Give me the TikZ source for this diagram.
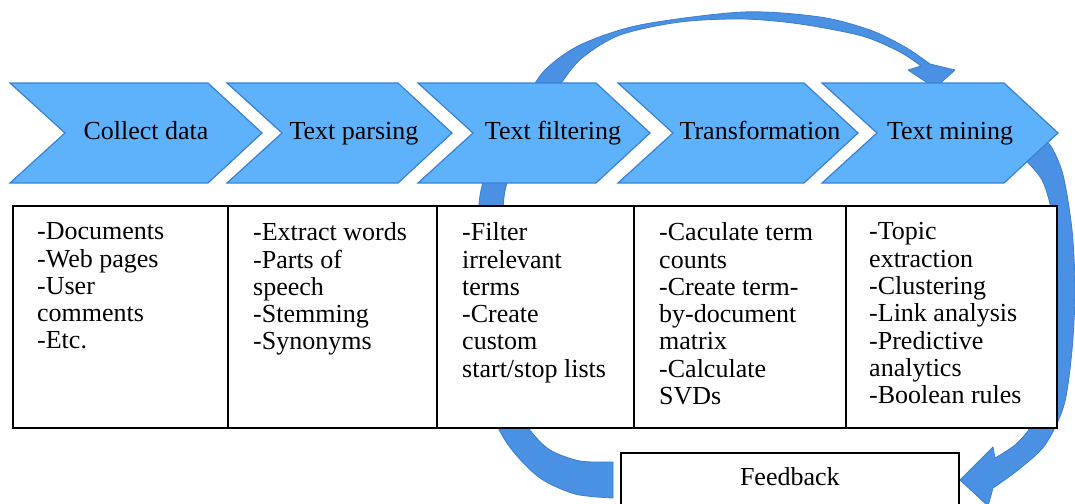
\documentclass[tikz,border=0pt]{standalone}
\usepackage{fontspec}
\setmainfont{Liberation Serif}
\usetikzlibrary{positioning}
\definecolor{chevfill}{HTML}{5EB2FB}
\definecolor{chevline}{HTML}{3A80D4}
\definecolor{bandfill}{HTML}{4A91E3}
\definecolor{bandline}{HTML}{3B7ED2}

\begin{document}
\begin{tikzpicture}[x=1pt,y=-1pt,
  chev/.style={draw=chevline,fill=chevfill,line width=1.2pt,line join=miter},
  chevtext/.style={anchor=base,inner sep=0pt},
  cell/.style={draw=black,fill=white,line width=1.6pt,outer sep=0pt,inner sep=0pt,minimum height=222pt,anchor=north west},
  celltext/.style={font=\fontsize{26}{27.3}\selectfont,align=left,anchor=north west,inner sep=0pt},
  bandarrow/.style={draw=bandline,fill=bandfill,line width=0.8pt,line join=round}
]
\useasboundingbox (0,0) rectangle (1075,503);
\clip (0,0) rectangle (1075,503);

% feedback loop back over the top to text mining
\draw[bandarrow] plot[smooth] coordinates {(613,498) (575,494) (540,478) (512,450) (495,420) (484,370) (478,300) (478,240) (481,190) (500,140) (525,100) (545,70) (580,45) (640,25) (743,12) (820,17) (870,30) (905,47) (930,64)}
  -- (955,70) -- (935,88) -- (908,70)
  -- plot[smooth] coordinates {(921,66) (900,52) (862,36) (800,24) (743,19) (680,22) (620,35) (582,58) (560,85) (540,120) (510,175) (503,210) (505,280) (510,350) (518,405) (530,430) (550,450) (580,461) (613,462)} -- cycle;

% text mining down to feedback
\draw[bandarrow] plot[smooth] coordinates {(1030,128) (1050,145) (1063,175) (1072,230) (1075,290) (1072,350) (1064,405) (1045,445) (1018,470) (993,488)}
  -- (988,506) -- (960,480) -- (993,447)
  -- plot[smooth] coordinates {(995,458) (1015,445) (1030,428) (1045,400) (1055,350) (1058,290) (1054,225) (1042,180) (1015,150)} -- cycle;

% process chevrons
\foreach \lx/\tx/\cx/\name/\txt in {10/262/146/collect/Collect data,
    227/452/354/parse/Text parsing,
    418/650/553/filter/Text filtering,
    618/858/760/transform/Transformation,
    822/1058/950/mine/Text mining}{
  \draw[chev] (\lx,83) -- (\tx-54,83) -- (\tx,133) -- (\tx-54,183) -- (\lx,183) -- (\lx+55,133) -- cycle;
  \node[chevtext,font=\fontsize{26}{30}\selectfont] (\name) at (\cx,139) {\txt};
}

% detail table
\node[cell,minimum width=215pt] (c1) at (13,206) {};
\node[cell,minimum width=209pt,right=0pt of c1] (c2) {};
\node[cell,minimum width=197pt,right=0pt of c2] (c3) {};
\node[cell,minimum width=212pt,right=0pt of c3] (c4) {};
\node[cell,minimum width=211pt,right=0pt of c4] (c5) {};

\node[celltext] (sources) at ([xshift=24pt,yshift=-16.5pt]c1.north west) {-Documents\\-Web pages\\-User\\comments\\-Etc.};
\node[celltext] (parsing) at ([xshift=25pt,yshift=-16.5pt]c2.north west) {-Extract words\\-Parts of\\speech\\-Stemming\\-Synonyms};
\node[celltext] (filters) at ([xshift=25pt,yshift=-16.5pt]c3.north west) {-Filter\\irrelevant\\terms\\-Create\\custom\\start/stop lists};
\node[celltext] (matrix) at ([xshift=25pt,yshift=-16.5pt]c4.north west) {-Caculate term\\counts\\-Create term-\\by-document\\matrix\\-Calculate\\SVDs};
\node[celltext] (methods) at ([xshift=23pt,yshift=-16.5pt]c5.north west) {-Topic\\extraction\\-Clustering\\-Link analysis\\-Predictive\\analytics\\-Boolean rules};

% feedback box
\node[draw=black,fill=white,line width=1.6pt,minimum width=338pt,minimum height=54pt,
  text height=17pt,text depth=5pt,anchor=north west,font=\fontsize{26}{28}\selectfont] (feedback) at (620,452) {Feedback};
\end{tikzpicture}
\end{document}
